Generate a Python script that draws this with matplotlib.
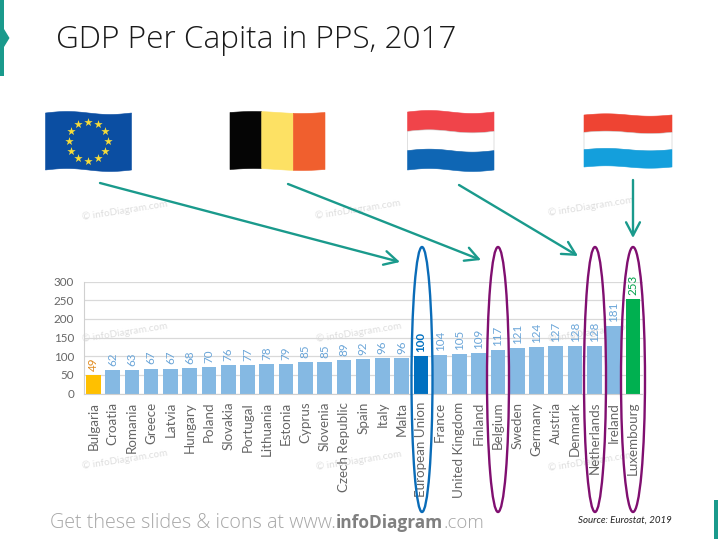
import numpy as np
import matplotlib
matplotlib.use('Agg')
import matplotlib.pyplot as plt
from matplotlib.patches import Ellipse, Polygon, Rectangle

W, H = 718, 539

countries = ['Bulgaria', 'Croatia', 'Romania', 'Greece', 'Latvia', 'Hungary', 'Poland',
             'Slovakia', 'Portugal', 'Lithuania', 'Estonia', 'Cyprus', 'Slovenia',
             'Czech Republic', 'Spain', 'Italy', 'Malta', 'European Union', 'France',
             'United Kingdom', 'Finland', 'Belgium', 'Sweden', 'Germany', 'Austria',
             'Denmark', 'Netherlands', 'Ireland', 'Luxembourg']
gdp = [49, 62, 63, 67, 67, 68, 70, 76, 77, 78, 79, 85, 85, 89, 92, 96, 96, 100,
       104, 105, 109, 117, 121, 124, 127, 128, 128, 181, 253]
yticks = [0, 50, 100, 150, 200, 250, 300]

bar_colors = {'Bulgaria': '#ffc000', 'European Union': '#0070c0', 'Luxembourg': '#00b050'}
label_colors = {'Bulgaria': '#e08a1e', 'European Union': '#0070c0', 'Luxembourg': '#00a04a'}
BAR = '#85b9e3'
LABEL = '#6aa5d8'
TEAL = '#1a9a8c'
PURPLE = '#800f70'
OPEN = ['Open Sans', 'DejaVu Sans']

plt.rcParams['font.family'] = ['Lato', 'DejaVu Sans']

fig = plt.figure(figsize=(W / 100, H / 100), dpi=100)

# watermarks go under the chart
bg = fig.add_axes([0, 0, 1, 1], zorder=-1)
bg.set_xlim(0, W)
bg.set_ylim(H, 0)
bg.axis('off')
for wx, wy in [(83, 222), (316, 221), (549, 218), (83, 344), (317, 344), (549, 344),
               (83, 471), (317, 472), (549, 473)]:
    bg.text(wx, wy, '© infoDiagram.com', rotation=9, fontsize=7.2, color='#dedede',
            ha='left', va='bottom', rotation_mode='anchor')

# chart, placed in pixel terms
ax = fig.add_axes([83.7 / W, 1 - 393.5 / H, (642.5 - 83.7) / W, (393.5 - 281.7) / H])
ax.patch.set_alpha(0)
x = np.arange(len(countries))
ax.bar(x, gdp, width=0.76, color=[bar_colors.get(c, BAR) for c in countries], zorder=2)
for i, (c, v) in enumerate(zip(countries, gdp)):
    ax.annotate(str(v), (i, v), xytext=(0, 3), textcoords='offset points', rotation=90,
                ha='center', va='bottom', fontsize=8.4, color=label_colors.get(c, LABEL),
                fontweight='bold' if c == 'European Union' else 'normal', zorder=3)
ax.set_xlim(-0.5, len(countries) - 0.5)
ax.set_ylim(0, 300)
ax.set_yticks(yticks)
ax.set_xticks(x)
ax.set_xticklabels(countries, rotation=90, fontsize=9.6, color='#666666')
ax.tick_params(axis='y', length=0, labelsize=8.4, labelcolor='#666666', pad=7)
ax.tick_params(axis='x', length=0, pad=6)
ax.grid(axis='y', color='#d9d9d9', lw=0.9, zorder=1)
ax.set_axisbelow(True)
for s in ['top', 'right']:
    ax.spines[s].set_visible(False)
for s in ['left', 'bottom']:
    ax.spines[s].set_color('#d0d0d0')

# overlay in reference pixels for the slide decoration
ov = fig.add_axes([0, 0, 1, 1], zorder=5)
ov.set_xlim(0, W)
ov.set_ylim(H, 0)
ov.axis('off')
ov.patch.set_alpha(0)

ov.text(56, 39.5, 'GDP Per Capita in PPS, 2017', fontsize=22.7, color='#1a1a1a',
        family=OPEN, fontweight='light', va='center', ha='left')

# side tabs
ov.add_patch(Rectangle((0, 0), 4, 76, color=TEAL, lw=0))
ov.add_patch(Polygon([(4, 29), (9.5, 38), (4, 47)], color=TEAL, lw=0))
ov.add_patch(Rectangle((714, 500), 4, 39, color=TEAL, lw=0))


def wave(xs, x0, x1, amp):
    return amp * np.sin((xs - x0) / (x1 - x0) * 2 * np.pi)


def flag(x0, x1, y0, y1, cols, vertical=False, amp=1.5):
    xs = np.linspace(x0, x1, 60)
    n = len(cols)
    for k, col in enumerate(cols):
        if vertical:
            xa, xb = x0 + (x1 - x0) * k / n, x0 + (x1 - x0) * (k + 1) / n
            xx = np.linspace(xa, xb, 20)
            top = y0 - wave(xx, x0, x1, amp)
            bot = y1 - wave(xx, x0, x1, amp)
            pts = np.r_[np.c_[xx, top], np.c_[xx[::-1], bot[::-1]]]
        else:
            ya, yb = y0 + (y1 - y0) * k / n, y0 + (y1 - y0) * (k + 1) / n
            pts = np.r_[np.c_[xs, ya - wave(xs, x0, x1, amp)],
                        np.c_[xs[::-1], (yb - wave(xs, x0, x1, amp))[::-1]]]
        ov.add_patch(Polygon(pts, facecolor=col, edgecolor='#c8c8c8' if col == 'white' else col, lw=0.4))


flag(45.5, 131.5, 113, 170, ['#0b4ea2'])
ang = np.linspace(0, 2 * np.pi, 12, endpoint=False)
ov.scatter(88 + 19.5 * np.cos(ang), 141 + 19.5 * np.sin(ang), marker='*', s=40, color='#f6dc3a', lw=0, zorder=6)
flag(230, 325, 112.5, 169.5, ['#050505', '#fde164', '#f05f2e'], vertical=True, amp=1.0)
flag(407.5, 494, 112, 170, ['#f0444a', 'white', '#0f66b4'])
flag(584, 672, 115, 167, ['#ee4433', 'white', '#149fdc'], amp=1.2)

# arrows from flags to bars
arrows = [((100, 183), (400, 262)), ((288, 184), (481, 260)),
          ((459, 185), (578, 256)), ((633, 180), (633, 238))]
for a, b in arrows:
    ov.annotate('', xy=b, xytext=a,
                arrowprops=dict(arrowstyle='->,head_length=0.95,head_width=0.5', color=TEAL,
                                lw=1.7, shrinkA=0, shrinkB=0))

# rings around the picked countries
rings = [(422, 21, '#0a6cb8'), (498, 22, PURPLE), (595, 22, PURPLE), (633, 24, PURPLE)]
for cx, w, col in rings:
    ov.add_patch(Ellipse((cx, 379.5), w, 265, fill=False, edgecolor=col, lw=1.7))

# footer
ft = ov.text(50, 523, 'Get these slides & icons at www.', fontsize=14.2, color='#a6a6a6', va='center',
             family=OPEN, fontweight='light')
fig.canvas.draw()
ex = ft.get_window_extent()
bold = ov.text(ex.x1, 523, 'infoDiagram', fontsize=12.4, color='#808080', va='center', fontweight='bold',
               family=OPEN)
ex = bold.get_window_extent()
ov.text(ex.x1, 523, '.com', fontsize=13.4, color='#a6a6a6', va='center', family=OPEN, fontweight='light')

ov.text(578, 520.5, 'Source: Eurostat, 2019', fontsize=7, style='italic', color='#222222', va='center')

fig.savefig('out.png', dpi=100)
